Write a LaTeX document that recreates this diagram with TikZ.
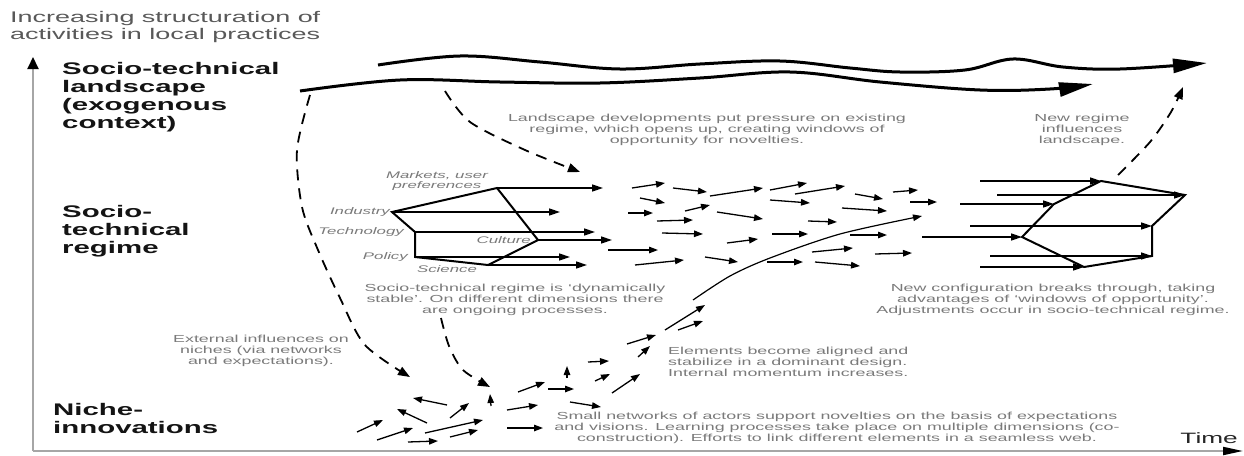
\documentclass[tikz,border=0pt]{standalone}
\usepackage{fontspec}
\newfontfamily\wsans[FakeStretch=1.75]{Liberation Sans}
\usetikzlibrary{arrows.meta}
\begin{document}
\begin{tikzpicture}[x=1pt,y=-1pt,
  ttl/.style={font=\wsans\fontsize{15.4}{16.5}\selectfont, text=black!65, inner sep=0, align=left},
  lvl/.style={font=\wsans\bfseries\fontsize{16.8}{18}\selectfont, text=black!92, inner sep=0, align=left},
  note/.style={font=\wsans\fontsize{10.2}{11}\selectfont, text=black!52, inner sep=0, align=center},
  lab/.style={font=\wsans\itshape\fontsize{9.6}{10.6}\selectfont, text=black!52, inner sep=0},
  sa/.style={line width=1.3pt, -{Triangle[length=9pt,width=6.5pt]}},
  ra/.style={line width=1.6pt, -{Triangle[length=11pt,width=7pt]}},
  poly/.style={line width=2pt, line join=miter},
  dsh/.style={line width=1.8pt, dash pattern=on 11pt off 8pt, -{Triangle[length=12pt,width=9pt]}},
  land/.style={line width=3pt, -{Triangle[length=34pt,width=14pt]}},
  axisl/.style={line width=2pt, black!35},
]
\useasboundingbox[fill=white] (0,0) rectangle (1244,455);

% axes
\coordinate (O) at (33,451);
\coordinate (Ytop) at (33,57);
\coordinate (Xend) at (1243,451);
\draw[axisl, -{Triangle[length=12pt,width=11pt,black]}] (O) -- (Ytop);
\draw[axisl, -{Triangle[length=20pt,width=8pt,black]}] (O) -- (Xend);

% texts
\node[ttl, anchor=north west] (title) at (10,11.5) {Increasing structuration of\\activities in local practices};
\node[lvl, anchor=north west] (lscape) at (62,62.5) {Socio-technical\\landscape\\(exogenous\\context)};
\node[lvl, anchor=north west] (regime) at (62,205) {Socio-\\technical\\regime};
\node[lvl, anchor=north west] (niche) at (53,403) {Niche-\\innovations};
\node[anchor=north east, inner sep=0, text=black!85, font=\wsans\fontsize{15}{16}\selectfont] (time) at (1238,432) {Time};

\node[note, anchor=north] (n1) at (707,114) {Landscape developments put pressure on existing\\regime, which opens up, creating windows of\\opportunity for novelties.};
\node[note, anchor=north] (n2) at (1082,114) {New regime\\influences\\landscape.};
\node[note, anchor=north] (n3) at (515,283.5) {Socio-technical regime is ‘dynamically\\stable’. On different dimensions there\\are ongoing processes.};
\node[note, anchor=north] (n4) at (261,334.5) {External influences on\\niches (via networks\\and expectations).};
\node[note, anchor=north west, align=left] (n5) at (668,346.5) {Elements become aligned and\\stabilize in a dominant design.\\Internal momentum increases.};
\node[note, anchor=north] (n6) at (1053,283.5) {New configuration breaks through, taking\\advantages of ‘windows of opportunity’.\\Adjustments occur in socio-technical regime.};
\node[note, anchor=north] (n7) at (837,411.5) {Small networks of actors support novelties on the basis of expectations\\and visions. Learning processes take place on multiple dimensions (co-\\construction). Efforts to link different elements in a seamless web.};

% landscape wavy arrows
\draw[land] plot[smooth, tension=0.6] coordinates {(378,65) (460,56) (540,62) (620,69) (700,64) (780,61) (850,68) (900,72) (965,70) (1013,59) (1063,67) (1120,69) (1207,63)};
\draw[land] plot[smooth, tension=0.6] coordinates {(300,91) (400,80) (500,82) (600,83) (700,78) (790,72) (880,82) (980,90) (1050,89) (1093,84)};

% left regime shape
\coordinate (mk) at (497,188);
\coordinate (ind) at (392,212);
\coordinate (tec) at (415,232);
\coordinate (pol) at (415,257);
\coordinate (sci) at (488,265);
\coordinate (cul) at (538,240);
\draw[poly] (ind) -- (mk) -- (cul) -- (sci) -- (pol) -- (tec) -- cycle;
\coordinate (mkE) at (603,188);
\coordinate (indE) at (560,212);
\coordinate (tecE) at (595,232);
\coordinate (culE) at (612,240);
\coordinate (polE) at (570,257);
\coordinate (sciE) at (587,265);
\draw[ra] (mk) -- (mkE);
\draw[ra] (ind) -- (indE);
\draw[ra] (tec) -- (tecE);
\draw[ra] (cul) -- (culE);
\draw[ra] (pol) -- (polE);
\draw[ra] (sci) -- (sciE);
\node[lab, align=center, anchor=north] (lmk) at (437,171) {Markets, user\\preferences};
\node[lab, anchor=east] (lind) at (390,212) {Industry};
\node[lab, anchor=east] (ltec) at (404,232) {Technology};
\node[lab, anchor=east] (lcul) at (531,240) {Culture};
\node[lab, anchor=east] (lpol) at (408,257) {Policy};
\node[lab] (lsci) at (447,269) {Science};

% right regime shape
\coordinate (rt) at (1101,181);
\coordinate (rr) at (1185,195);
\coordinate (rn) at (1152,226);
\coordinate (rbr) at (1152,256);
\coordinate (rb) at (1084,267);
\coordinate (rl) at (1022,237);
\coordinate (rk) at (1054,204);
\draw[poly] (rl) -- (rk) -- (rt) -- (rr) -- (rn) -- (rbr) -- (rb) -- cycle;
\coordinate (s1) at (980,181);
\coordinate (s2) at (997,195);
\coordinate (s3) at (960,204);
\coordinate (s4) at (970,226);
\coordinate (s5) at (922,237);
\coordinate (s6) at (990,256);
\coordinate (s7) at (980,267);
\draw[ra] (s1) -- (rt);
\draw[ra] (s2) -- (rr);
\draw[ra] (s3) -- (rk);
\draw[ra] (s4) -- (rn);
\draw[ra] (s5) -- (rl);
\draw[ra] (s6) -- (rbr);
\draw[ra] (s7) -- (rb);

% dashed influence arrows
\draw[dsh] plot[smooth] coordinates {(310,95) (297,150) (302,207) (318,250) (340,298) (365,345) (410,377)};
\draw[dsh] plot[smooth] coordinates {(445,91) (470,122) (525,150) (580,172)};
\draw[dsh] plot[smooth] coordinates {(441,318) (449,346) (463,370) (490,387)};
\draw[dsh] plot[smooth] coordinates {(1118,175) (1150,142) (1171,112) (1183,87)};

% thin breakthrough curve
\draw[sa, line width=1.2pt] plot[smooth] coordinates {(693,300) (730,276) (770,258) (840,234) (922,216)};

% small arrows: regime field
\foreach \a/\b/\c/\d in {632/188/665/183, 673/188/707/192, 710/196/763/188, 770/190/807/183,
  795/194/845/186, 855/194/883/199, 893/192/918/190, 640/198/665/203, 770/200/810/203,
  910/202/937/202, 628/213/653/213, 685/211/710/205, 717/212/763/219, 842/208/887/211,
  657/221/693/220, 808/221/837/222, 662/233/703/234, 727/243/758/239, 772/234/808/234,
  850/235/887/235, 608/250/658/250, 812/252/853/248, 875/254/912/253, 635/265/684/260,
  705/257/738/262, 767/262/803/262, 815/262/860/266}
  \draw[sa] (\a,\b) -- (\c,\d);

% small arrows: niche field
\foreach \a/\b/\c/\d in {357/432/383/420, 377/440/413/428, 408/442/438/441, 425/433/483/420,
  450/437/478/430, 427/423/397/409, 447/405/413/398, 450/418/469/403, 491/406/490/394,
  507/410/538/405, 507/428/543/428, 518/392/545/382, 548/389/574/389, 570/402/601/407,
  567/378/567/366, 588/362/609/361, 595/381/610/374, 612/393/640/374, 627/344/656/335,
  638/357/650/346, 665/330/705/305, 678/330/703/321}
  \draw[sa] (\a,\b) -- (\c,\d);
\end{tikzpicture}
\end{document}
